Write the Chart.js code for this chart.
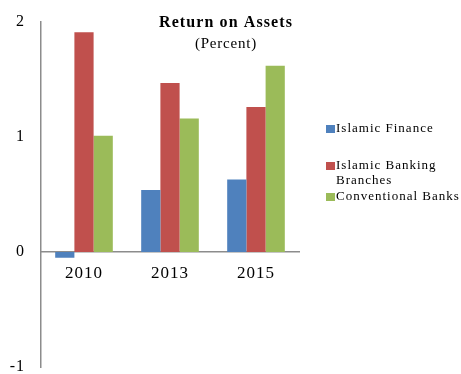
<!DOCTYPE html>
<html>
<head>
<meta charset="utf-8">
<title>Return on Assets</title>
<script src="https://cdn.jsdelivr.net/npm/chart.js@4/dist/chart.umd.min.js"></script>
<style>
  html, body { margin: 0; padding: 0; background: #fff; }
  #wrap { width: 461px; height: 374px; }
</style>
</head>
<body>
<div id="wrap"><canvas id="roa" width="461" height="374"></canvas></div>
<script>
const years = ['2010', '2013', '2015'];
const islamicFinance = [-0.05, 0.54, 0.63];
const islamicBranches = [1.91, 1.47, 1.26];
const conventionalBanks = [1.01, 1.16, 1.62];
const seriesNames = ['Islamic Finance', ['Islamic Banking', 'Branches'], 'Conventional Banks'];
const yTicks = [-1, 0, 1, 2];

const COLORS = ['#4f81bd', '#c0504d', '#9bbb59'];
const AXIS = '#8c8c8c';
const SERIF = "'Liberation Serif', 'DejaVu Serif', serif";

// title block drawn over the plot, right of centre
const titlePlugin = {
  id: 'roaTitle',
  afterDraw(chart) {
    const ctx = chart.ctx;
    const cx = chart.chartArea.left + 185;
    ctx.save();
    ctx.fillStyle = '#000';
    ctx.textAlign = 'center';
    ctx.textBaseline = 'middle';
    ctx.letterSpacing = '1.1px';
    ctx.font = 'bold 16px ' + SERIF;
    ctx.fillText('Return on Assets', cx, 23);
    ctx.letterSpacing = '0.8px';
    ctx.font = '15px ' + SERIF;
    ctx.fillText('(Percent)', cx, 44);
    ctx.restore();
  }
};

// legend to the right with the wrapped second entry
const legendPlugin = {
  id: 'roaLegend',
  afterDraw(chart) {
    const ctx = chart.ctx;
    const x = chart.chartArea.right + 27;
    const rows = [129, 166, 197];
    ctx.save();
    ctx.font = '13px ' + SERIF;
    ctx.letterSpacing = '1px';
    ctx.textBaseline = 'middle';
    chart.data.datasets.forEach((ds, i) => {
      const y = rows[i];
      ctx.fillStyle = ds.backgroundColor;
      ctx.fillRect(x, y - 4, 9, 8);
      ctx.fillStyle = '#000';
      const lines = Array.isArray(ds.label) ? ds.label : [ds.label];
      lines.forEach((t, j) => ctx.fillText(t, x + 10, y + j * 15));
    });
    ctx.restore();
  }
};

// slightly spaced tick text
const spacingPlugin = {
  id: 'tickSpacing',
  beforeDraw(chart) { chart.ctx.letterSpacing = '1px'; },
  afterDraw(chart) { chart.ctx.letterSpacing = '0px'; }
};

new Chart(document.getElementById('roa'), {
  type: 'bar',
  data: {
    labels: years,
    datasets: [islamicFinance, islamicBranches, conventionalBanks].map((values, i) => ({
      label: seriesNames[i],
      data: values,
      backgroundColor: COLORS[i],
      borderWidth: 0,
      categoryPercentage: 0.67,
      barPercentage: 1.0
    }))
  },
  options: {
    responsive: false,
    animation: false,
    layout: { padding: { top: 22, right: 162, bottom: 7, left: 0 } },
    plugins: {
      legend: { display: false },
      title: { display: false },
      tooltip: { enabled: false }
    },
    scales: {
      x: {
        position: { y: 0 },
        afterFit(scale) { scale.height = 0; },
        grid: { display: false, drawTicks: false },
        border: { display: true, color: AXIS, width: 1.5 },
        ticks: { color: '#000', padding: 13, font: { family: SERIF, size: 17, lineHeight: 1 } }
      },
      y: {
        min: -1,
        max: 2,
        afterFit(scale) {
          scale.width = 41;
          // end labels may overhang the plot; padding above handles it
          scale.paddingTop = 0;
          scale.paddingBottom = 0;
        },
        afterBuildTicks(scale) { scale.ticks = yTicks.map(v => ({ value: v })); },
        grid: { display: false, drawTicks: false },
        border: { display: true, color: AXIS, width: 1.5 },
        ticks: { color: '#000', padding: 16, font: { family: SERIF, size: 16, lineHeight: 1 } }
      }
    }
  },
  plugins: [spacingPlugin, titlePlugin, legendPlugin]
});
</script>
</body>
</html>
